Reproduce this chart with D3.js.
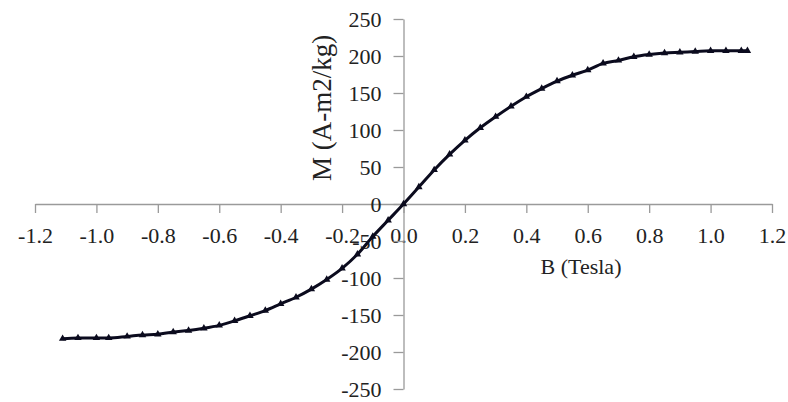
<!DOCTYPE html>
<html>
<head>
<meta charset="utf-8">
<title>M vs B</title>
<script src="https://cdn.jsdelivr.net/npm/d3@7"></script>
<style>
  body { margin: 0; background: #fff; }
  .axis path, .axis line { stroke: #9a9a9a; stroke-width: 1.3; }
</style>
</head>
<body>
<svg id="graph" width="788" height="402"></svg>
<script>
// field (Tesla) and magnetisation (A-m2/kg)
var bField = [-1.11, -1.06, -1.00, -0.96, -0.90, -0.85, -0.80, -0.75, -0.70, -0.65,
              -0.60, -0.55, -0.50, -0.45, -0.40, -0.35, -0.30, -0.25, -0.20, -0.15,
              -0.10, -0.05, 0.00, 0.05, 0.10, 0.15, 0.20, 0.25, 0.30, 0.35,
              0.40, 0.45, 0.50, 0.55, 0.60, 0.65, 0.70, 0.75, 0.80, 0.85,
              0.90, 0.95, 1.00, 1.05, 1.10, 1.12]
var magnet = [-182, -181, -181, -181, -179, -177, -176, -173, -171, -168,
              -164, -158, -151, -144, -135, -126, -115, -102, -87, -68,
              -44, -22, 0, 23, 46, 67, 86, 103, 118, 132,
              145, 156, 166, 174, 181, 190, 194, 199, 202, 204,
              205, 206, 207, 207, 207, 207]
var xTicks = [-1.2, -1.0, -0.8, -0.6, -0.4, -0.2, 0.0, 0.2, 0.4, 0.6, 0.8, 1.0, 1.2]
var yTicks = [-250, -200, -150, -100, -50, 0, 50, 100, 150, 200, 250]

var serif = '"Liberation Serif", "DejaVu Serif", serif'
var svg = d3.select("#graph")

var x = d3.scaleLinear().domain([-1.2, 1.2]).range([35, 772])
var y = d3.scaleLinear().domain([-250, 250]).range([389, 19])

var gx = svg.append("g")
  .attr("class", "axis")
  .attr("transform", "translate(0," + y(0) + ")")
  .call(d3.axisBottom(x).tickValues(xTicks).tickSize(9).tickSizeOuter(0).tickPadding(14)
    .tickFormat(d => d.toFixed(1)))

var gy = svg.append("g")
  .attr("class", "axis")
  .attr("transform", "translate(" + x(0) + ",0)")
  .call(d3.axisLeft(y).tickValues(yTicks).tickSize(10).tickSizeOuter(0).tickPadding(12)
    .tickFormat(d => String(d)))

svg.selectAll(".axis")
  .attr("font-family", null)
  .attr("font-size", null)
svg.selectAll(".axis text")
  .style("font-family", serif)
  .style("font-size", "22px")
  .attr("fill", "#222")

var pts = bField.map((b, i) => [b, magnet[i]])

svg.append("path")
  .datum(pts)
  .attr("fill", "none")
  .attr("stroke", "#0b0b1e")
  .attr("stroke-width", 3)
  .attr("d", d3.line().curve(d3.curveMonotoneX).x(d => x(d[0])).y(d => y(d[1])))

svg.selectAll(".pt")
  .data(pts)
  .enter().append("path")
  .attr("class", "pt")
  .attr("transform", d => "translate(" + x(d[0]) + "," + y(d[1]) + ")")
  .attr("d", d3.symbol().type(d3.symbolTriangle).size(24))
  .attr("fill", "#0b0b1e")

svg.append("text")
  .attr("x", 581)
  .attr("y", 274)
  .attr("text-anchor", "middle")
  .style("font-family", serif)
  .style("font-size", "22px")
  .attr("fill", "#222")
  .text("B (Tesla)")

svg.append("text")
  .attr("transform", "translate(331,108) rotate(-90)")
  .attr("text-anchor", "middle")
  .style("font-family", serif)
  .style("font-size", "27px")
  .attr("fill", "#222")
  .text("M (A-m2/kg)")
</script>
</body>
</html>
